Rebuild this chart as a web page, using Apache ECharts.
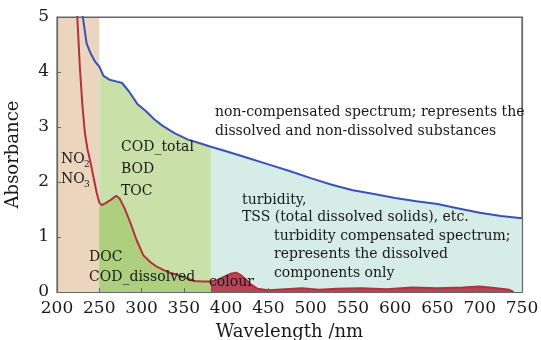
<!DOCTYPE html>
<html>
<head>
<meta charset="utf-8">
<script src="https://cdn.jsdelivr.net/npm/echarts@6/dist/echarts.min.js"></script>
<style>
  html, body { margin: 0; padding: 0; background: #fff; }
  #chart { width: 541px; height: 340px; }
</style>
</head>
<body>
<div id="chart"></div>
<script>
// wavelength (nm) / absorbance
const blueX = [228, 231, 235, 240, 245, 250, 255, 262, 270, 277, 285, 295, 305, 315, 325, 340, 355, 370, 382,
  400, 425, 450, 475, 500, 525, 550, 575, 600, 625, 650, 675, 700, 725, 750];
const blueY = [5.3, 4.95, 4.52, 4.33, 4.19, 4.1, 3.93, 3.86, 3.83, 3.8, 3.65, 3.42, 3.29, 3.14, 3.02, 2.88, 2.77, 2.7, 2.64,
  2.56, 2.44, 2.32, 2.2, 2.07, 1.95, 1.85, 1.78, 1.71, 1.65, 1.6, 1.52, 1.44, 1.38, 1.34];

const redX = [220, 224, 227, 230, 233, 236, 239, 243, 247, 250, 253, 258, 264, 270, 274, 280, 287, 294, 302, 310,
  318, 330, 342, 352, 362, 372, 382, 390, 398, 405, 412, 418, 424, 430, 437, 450, 470, 490, 510, 530, 560, 590,
  620, 650, 680, 700, 720, 735, 740];
const redY = [5.6, 5.0, 4.1, 3.4, 2.89, 2.6, 2.4, 2.1, 1.8, 1.63, 1.58, 1.62, 1.68, 1.75, 1.7, 1.52, 1.25, 0.95, 0.67, 0.55,
  0.46, 0.37, 0.31, 0.26, 0.2, 0.19, 0.19, 0.22, 0.28, 0.33, 0.35, 0.3, 0.22, 0.13, 0.06, 0.03, 0.05, 0.07, 0.04, 0.06, 0.07, 0.05,
  0.08, 0.07, 0.08, 0.1, 0.07, 0.04, 0.0];

const xTicks = [200, 250, 300, 350, 400, 450, 500, 550, 600, 650, 700, 750];
const yTicks = [0, 1, 2, 3, 4, 5];

// band edges
const nitrateEnd = 250;
const organicEnd = 382;

const pairs = (xs, ys) => xs.map((x, i) => [x, ys[i]]);
const slice = (xs, ys, lo, hi) => pairs(xs, ys).filter(p => p[0] >= lo && p[0] <= hi);

const FONT = 'DejaVu Serif';

const chart = echarts.init(document.getElementById('chart'));

const fill = (data, color, z) => ({
  type: 'line',
  data: data,
  symbol: 'none',
  silent: true,
  z: z,
  lineStyle: { width: 0 },
  areaStyle: { color: color, opacity: 1 }
});

const txt = (left, top, text, size) => ({
  type: 'text',
  left: left,
  top: top,
  z: 10,
  style: { text: text, font: (size || 14) + 'px "' + FONT + '"', fill: '#1a1a1a' }
});

const option = {
  animation: false,
  grid: {
    left: 57, right: 19, top: 17, bottom: 48,
    outerBoundsMode: 'none',
    show: true, backgroundColor: 'transparent', borderColor: '#666', borderWidth: 1.2
  },
  xAxis: {
    type: 'value', min: 200, max: 750, interval: 50, z: 5,
    name: 'Wavelength /nm', nameLocation: 'middle', nameGap: 31,
    nameTextStyle: { fontFamily: FONT, fontSize: 18, color: '#1a1a1a' },
    axisLine: { lineStyle: { color: '#666', width: 1.2 } },
    axisTick: { inside: true, length: 4, lineStyle: { color: '#666' } },
    axisLabel: { fontFamily: FONT, fontSize: 17, color: '#1a1a1a', margin: 8,
      customValues: xTicks },
    splitLine: { show: false }
  },
  yAxis: [{
    type: 'value', min: 0, max: 5, interval: 1, z: 5,
    name: 'Absorbance', nameLocation: 'middle', nameGap: 35, nameRotate: 90,
    nameTextStyle: { fontFamily: FONT, fontSize: 18, color: '#1a1a1a' },
    axisLine: { show: true, lineStyle: { color: '#666', width: 1.2 } },
    axisTick: { show: true, inside: true, length: 4, lineStyle: { color: '#666' } },
    axisLabel: { fontFamily: FONT, fontSize: 17, color: '#1a1a1a', margin: 8,
      customValues: yTicks },
    splitLine: { show: false }
  }, {
    type: 'value', min: 0, max: 5, interval: 1, z: 5, position: 'right',
    axisLine: { show: true, onZero: false, lineStyle: { color: '#666', width: 1.2 } },
    axisTick: { show: false }, axisLabel: { show: false }, splitLine: { show: false }
  }],
  series: [
    {
      type: 'line', data: [], silent: true, z: 1,
      markArea: {
        silent: true,
        itemStyle: { color: '#ecd5bf', opacity: 1 },
        data: [[{ xAxis: 200 }, { xAxis: nitrateEnd }]]
      }
    },
    fill(slice(blueX, blueY, nitrateEnd, organicEnd), '#c9e1a9', 1),
    fill(slice(blueX, blueY, organicEnd, 750), '#d6ece7', 1),
    fill(slice(redX, redY, nitrateEnd, organicEnd), '#aed07e', 2),
    fill(slice(redX, redY, organicEnd, 750), '#b8445a', 2),
    {
      type: 'line', data: pairs(blueX, blueY), symbol: 'none', z: 4,
      lineStyle: { color: '#3a52b8', width: 2 },
      // top edge of the frame
      markLine: {
        silent: true, symbol: 'none', label: { show: false },
        lineStyle: { color: '#666', width: 1.2, type: 'solid' },
        data: [{ yAxis: 5 }]
      }
    },
    {
      type: 'line', data: pairs(redX, redY), symbol: 'none', z: 4,
      lineStyle: { color: '#b3303d', width: 2 }
    }
  ],
  graphic: [
    txt(215, 105, 'non-compensated spectrum; represents the'),
    txt(215, 124, 'dissolved and non-dissolved substances'),
    txt(121, 140, 'COD_total'),
    txt(121, 162, 'BOD'),
    txt(121, 184, 'TOC'),
    txt(61, 152, 'NO'),
    txt(84, 160, '2', 9),
    txt(61, 172, 'NO'),
    txt(84, 180, '3', 9),
    txt(242, 193, 'turbidity,'),
    txt(242, 210, 'TSS (total dissolved solids), etc.'),
    txt(274, 229, 'turbidity compensated spectrum;'),
    txt(274, 247, 'represents the dissolved'),
    txt(274, 266, 'components only'),
    txt(89, 250, 'DOC'),
    txt(89, 270, 'COD_dissolved'),
    txt(209, 275, 'colour')
  ]
};

chart.setOption(option);
</script>
</body>
</html>
